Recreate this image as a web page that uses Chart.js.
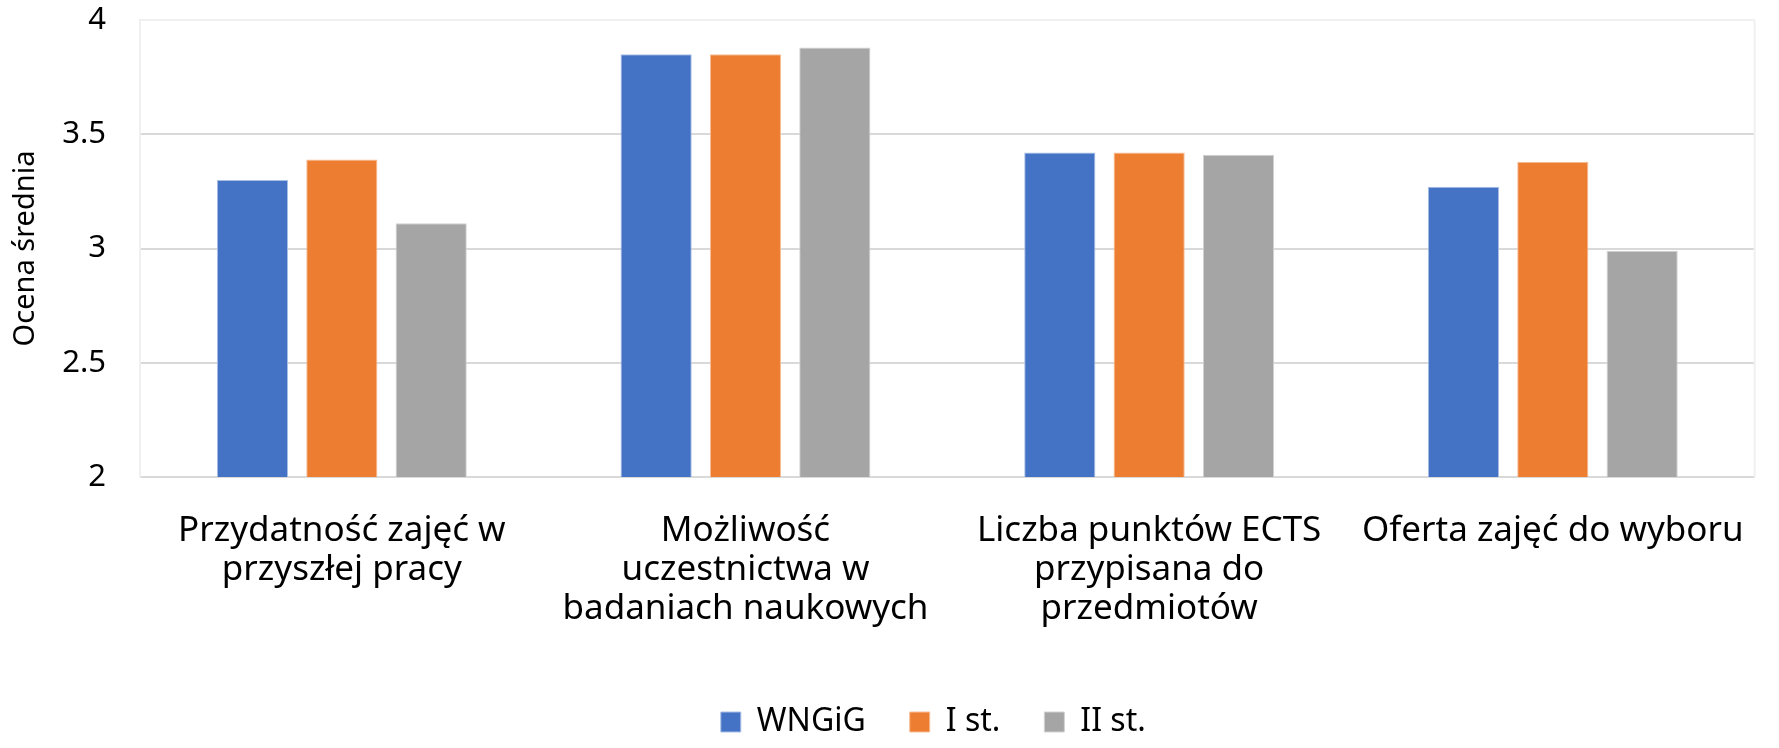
<!DOCTYPE html>
<html>
<head>
<meta charset="utf-8">
<script src="https://cdn.jsdelivr.net/npm/chart.js@4/dist/chart.umd.min.js"></script>
<style>
  html, body { margin: 0; padding: 0; background: #fff; }
  #wrap { width: 1779px; height: 748px; }
</style>
</head>
<body>
<div id="wrap"><canvas id="chart" width="1779" height="748"></canvas></div>
<script>
// categories (wrapped the same way as the original)
const categories = [
    ['Przydatność zajęć w', 'przyszłej pracy'],
    ['Możliwość', 'uczestnictwa w', 'badaniach naukowych'],
    ['Liczba punktów ECTS', 'przypisana do', 'przedmiotów'],
    ['Oferta zajęć do wyboru']
];

const seriesNames = ['WNGiG', 'I st.', 'II st.'];

const wngigValues = [3.30, 3.85, 3.42, 3.27];
const firstDegreeValues = [3.39, 3.85, 3.42, 3.38];
const secondDegreeValues = [3.11, 3.88, 3.41, 2.99];

const yTicks = [2, 2.5, 3, 3.5, 4];

const FONT = "'Noto Sans', 'Open Sans', sans-serif";

/**
 * light right edge of the plot area, like the excel chart
 */
const plotFrame = {
    id: 'plotFrame',
    beforeDatasetsDraw(chart) {
        const { ctx, chartArea } = chart;
        ctx.save();
        ctx.strokeStyle = '#f0f0f0';
        ctx.lineWidth = 2;
        ctx.beginPath();
        ctx.moveTo(chartArea.right, chartArea.top);
        ctx.lineTo(chartArea.right, chartArea.bottom);
        ctx.stroke();
        ctx.restore();
    }
};

/**
 * excel puts the legend a bit left of the plot centre
 */
const legendNudge = {
    id: 'legendNudge',
    afterLayout(chart) {
        chart.legend.left -= 14;
        chart.legend.right -= 14;
    }
};

const ctx = document.getElementById('chart');

new Chart(ctx, {
    type: 'bar',
    data: {
        labels: categories,
        datasets: [
            { label: seriesNames[0], data: wngigValues, backgroundColor: '#4472C4', borderColor: '#a9bfe6', borderWidth: 1 },
            { label: seriesNames[1], data: firstDegreeValues, backgroundColor: '#ED7D31', borderColor: '#f7bf98', borderWidth: 1 },
            { label: seriesNames[2], data: secondDegreeValues, backgroundColor: '#A5A5A5', borderColor: '#d2d2d2', borderWidth: 1 }
        ]
    },
    options: {
        responsive: false,
        animation: false,
        layout: { padding: { left: 0, right: 11, top: 20, bottom: 0 } },
        datasets: {
            bar: { categoryPercentage: 0.664, barPercentage: 0.797 }
        },
        plugins: {
            tooltip: { enabled: false },
            legend: {
                position: 'bottom',
                fullSize: false,
                labels: {
                    font: { family: FONT, size: 32 },
                    color: '#000',
                    boxWidth: 20,
                    boxHeight: 20,
                    padding: 44
                }
            }
        },
        scales: {
            x: {
                grid: { display: false, drawTicks: false },
                border: { display: false },
                ticks: {
                    font: { family: FONT, size: 35, lineHeight: 1.12 },
                    color: '#000',
                    padding: 34,
                    maxRotation: 0,
                    autoSkip: false
                },
                afterFit(scale) { scale.height = 185; }
            },
            y: {
                min: 2,
                max: 4,
                afterBuildTicks(scale) {
                    scale.ticks = yTicks.map(v => ({ value: v }));
                },
                grid: {
                    drawTicks: false,
                    lineWidth: 2,
                    color: (c) => c.tick && c.tick.value === 4 ? '#f0f0f0' : '#d9d9d9'
                },
                border: { display: true, color: '#f0f0f0', width: 2 },
                ticks: {
                    font: { family: FONT, size: 31 },
                    color: '#000',
                    padding: 34,
                    callback: (v) => String(v)
                },
                title: {
                    display: true,
                    text: 'Ocena średnia',
                    font: { family: FONT, size: 29 },
                    color: '#000',
                    padding: { top: 8, bottom: 0 }
                },
                afterFit(scale) {
                    scale.width = 140;
                    // no extra room above/below for the end labels
                    scale.paddingTop = 0;
                    scale.paddingBottom = 0;
                }
            }
        }
    },
    plugins: [plotFrame, legendNudge]
});
</script>
</body>
</html>
